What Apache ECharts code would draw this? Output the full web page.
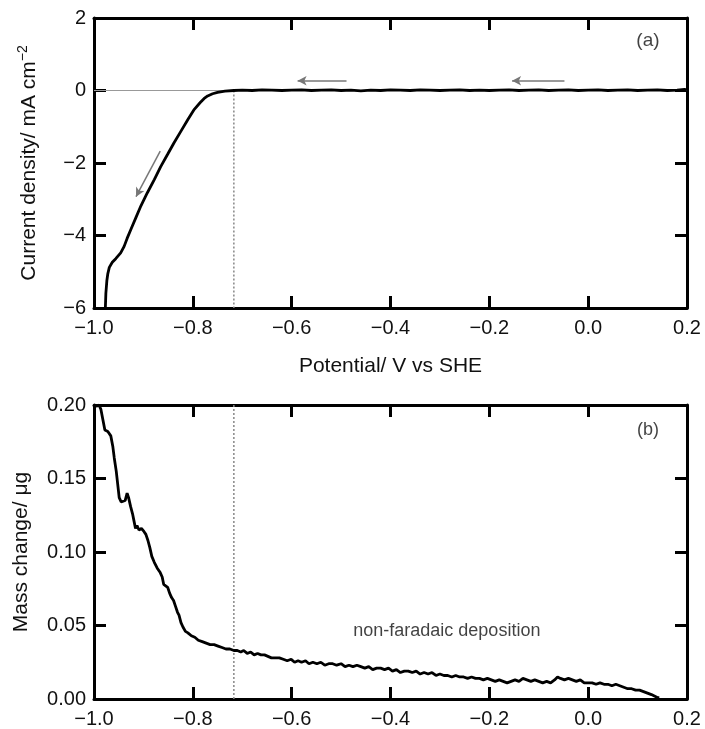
<!DOCTYPE html>
<html>
<head>
<meta charset="utf-8">
<script src="https://cdn.jsdelivr.net/npm/echarts@6/dist/echarts.min.js"></script>
<style>html,body{margin:0;padding:0;background:#fff}#c{width:705px;height:729px}</style>
</head>
<body>
<div id="c"></div>
<script>
// ---- Panel (a): current density vs potential (cathodic scan) ----
const currentE = [0.200,0.195,0.18,0.16,0.14,0.12,0.10,0.08,0.06,0.04,0.02,0.00,-0.02,-0.04,-0.06,-0.08,-0.10,-0.12,-0.14,-0.16,-0.18,-0.20,-0.22,-0.24,-0.26,-0.28,-0.30,-0.32,-0.34,-0.36,-0.38,-0.40,-0.42,-0.44,-0.46,-0.48,-0.50,-0.52,-0.54,-0.56,-0.58,-0.60,-0.62,-0.64,-0.66,-0.68,-0.70,-0.717,-0.735,-0.750,-0.760,-0.770,-0.777,-0.785,-0.797,-0.810,-0.824,-0.838,-0.851,-0.865,-0.878,-0.892,-0.905,-0.915,-0.925,-0.933,-0.939,-0.946,-0.956,-0.963,-0.969,-0.972,-0.974,-0.976,-0.977,-0.978];
const currentJ = [0.02,0.03,0.01,0.00,0.02,0.01,0.00,0.02,0.01,0.00,0.02,0.01,0.00,0.02,0.01,0.00,0.02,0.01,0.00,0.02,0.01,0.00,0.01,0.00,0.02,0.01,0.00,0.01,0.02,0.00,0.01,0.02,0.00,0.01,-0.01,0.01,0.00,0.02,0.01,0.00,0.02,0.01,0.00,0.01,0.02,0.00,0.01,0.00,-0.02,-0.05,-0.09,-0.15,-0.22,-0.33,-0.52,-0.80,-1.12,-1.44,-1.76,-2.10,-2.46,-2.82,-3.18,-3.50,-3.82,-4.08,-4.30,-4.48,-4.64,-4.74,-4.88,-5.05,-5.25,-5.60,-6.00,-6.40];

// ---- Panel (b): mass change vs potential ----
const massE = [-0.996,-0.990,-0.986,-0.982,-0.978,-0.972,-0.966,-0.962,-0.959,-0.955,-0.952,-0.949,-0.945,-0.941,-0.937,-0.933,-0.930,-0.926,-0.922,-0.919,-0.916,-0.913,-0.909,-0.904,-0.899,-0.895,-0.891,-0.887,-0.883,-0.878,-0.872,-0.866,-0.862,-0.859,-0.855,-0.851,-0.847,-0.843,-0.839,-0.835,-0.831,-0.828,-0.824,-0.820,-0.815,-0.810,-0.803,-0.796,-0.789,-0.781,-0.773,-0.765,-0.757,-0.749,-0.741,-0.733,-0.725,-0.717,-0.710,-0.703,-0.697,-0.690,-0.683,-0.676,-0.669,-0.662,-0.655,-0.648,-0.641,-0.633,-0.625,-0.617,-0.609,-0.601,-0.594,-0.587,-0.580,-0.572,-0.565,-0.557,-0.549,-0.541,-0.533,-0.525,-0.517,-0.509,-0.500,-0.492,-0.484,-0.476,-0.468,-0.460,-0.452,-0.444,-0.436,-0.428,-0.420,-0.412,-0.404,-0.396,-0.388,-0.380,-0.372,-0.364,-0.356,-0.348,-0.340,-0.332,-0.324,-0.316,-0.308,-0.300,-0.292,-0.284,-0.276,-0.268,-0.260,-0.252,-0.244,-0.236,-0.228,-0.220,-0.212,-0.204,-0.196,-0.188,-0.180,-0.172,-0.164,-0.156,-0.148,-0.140,-0.132,-0.124,-0.116,-0.108,-0.100,-0.092,-0.084,-0.076,-0.068,-0.062,-0.056,-0.048,-0.040,-0.032,-0.024,-0.016,-0.008,0.000,0.008,0.016,0.024,0.032,0.040,0.048,0.056,0.064,0.072,0.080,0.088,0.096,0.104,0.112,0.120,0.128,0.134,0.140,0.144];
const massM = [0.199,0.200,0.197,0.190,0.183,0.182,0.179,0.172,0.164,0.155,0.146,0.137,0.134,0.133,0.135,0.140,0.137,0.131,0.126,0.121,0.116,0.118,0.115,0.116,0.114,0.112,0.108,0.103,0.097,0.093,0.089,0.086,0.083,0.078,0.077,0.076,0.072,0.069,0.067,0.063,0.059,0.057,0.052,0.049,0.046,0.045,0.043,0.042,0.040,0.039,0.038,0.037,0.037,0.036,0.035,0.034,0.034,0.033,0.033,0.032,0.033,0.031,0.032,0.030,0.031,0.030,0.030,0.029,0.028,0.028,0.028,0.027,0.026,0.027,0.025,0.026,0.025,0.026,0.024,0.025,0.024,0.025,0.023,0.024,0.024,0.023,0.024,0.022,0.023,0.022,0.023,0.022,0.021,0.022,0.020,0.021,0.021,0.020,0.021,0.019,0.020,0.018,0.019,0.019,0.018,0.019,0.017,0.018,0.017,0.018,0.016,0.017,0.016,0.016,0.015,0.016,0.015,0.015,0.014,0.015,0.014,0.014,0.013,0.014,0.013,0.012,0.013,0.012,0.011,0.012,0.013,0.012,0.014,0.013,0.012,0.013,0.012,0.011,0.012,0.011,0.013,0.015,0.014,0.013,0.014,0.013,0.012,0.013,0.011,0.011,0.011,0.010,0.011,0.010,0.010,0.009,0.010,0.009,0.008,0.007,0.007,0.006,0.006,0.005,0.004,0.003,0.002,0.001,0.001];

// deposition onset potential (dotted marker)
const onsetE = -0.717;
const currentRange = [-6, 0];
const massRange = [0, 0.2];

// scan direction arrows [x1, y1, x2, y2] in panel (a)
const arrowsA = [
  [-0.048, 0.27, -0.154, 0.27],
  [-0.489, 0.27, -0.588, 0.27],
  [-0.866, -1.67, -0.915, -2.93]
];

// annotations [x, y, text]
const labelsA = [[0.121, 1.37, '(a)']];
const labelsB = [[0.121, 0.183, '(b)'], [-0.286, 0.046, 'non-faradaic deposition']];

const FONT = 'Liberation Sans, Arial, Helvetica, sans-serif';
const TXT = '#111';
const minus = s => String(s).replace(/-/g, '\u2212');

function axisBase(extra) {
  return Object.assign({
    type: 'value',
    axisLine: { show: true, onZero: false, lineStyle: { color: '#000', width: 3 } },
    axisTick: { show: true, inside: true, length: 12, lineStyle: { color: '#000', width: 3 } },
    splitLine: { show: false },
    axisLabel: { show: false }
  }, extra);
}
const xLab = { show: true, fontFamily: FONT, fontSize: 20, color: TXT, margin: 10,
  formatter: v => minus(Number(v).toFixed(1)) };

const pts = (xs, ys) => xs.map((x, i) => [x, ys[i]]);

const option = {
  animation: false,
  backgroundColor: '#fff',
  grid: [
    { left: 94, top: 18, width: 593, height: 290 },
    { left: 94, top: 405, width: 593, height: 296 }
  ],
  xAxis: [
    axisBase({ gridIndex: 0, position: 'bottom', min: -1, max: 0.2, interval: 0.2, axisLabel: xLab,
      name: 'Potential/ V vs SHE', nameLocation: 'middle', nameGap: 48,
      nameTextStyle: { fontFamily: FONT, fontSize: 21, color: TXT } }),
    axisBase({ gridIndex: 0, position: 'top', min: -1, max: 0.2, interval: 0.2 }),
    axisBase({ gridIndex: 1, position: 'bottom', min: -1, max: 0.2, interval: 0.2, axisLabel: xLab }),
    axisBase({ gridIndex: 1, position: 'top', min: -1, max: 0.2, interval: 0.2 })
  ],
  yAxis: [
    axisBase({ gridIndex: 0, position: 'left', min: -6, max: 2, interval: 2,
      axisLabel: { show: true, fontFamily: FONT, fontSize: 20, color: TXT, margin: 8,
        formatter: v => minus(Math.round(v)) },
      name: 'Current density/ mA cm{sup|\u22122}', nameLocation: 'middle', nameGap: 52,
      nameTextStyle: { fontFamily: FONT, fontSize: 21, color: TXT,
        rich: { sup: { fontFamily: FONT, fontSize: 14, color: TXT, padding: [0, 0, 12, 0] } } } }),
    axisBase({ gridIndex: 0, position: 'right', min: -6, max: 2, interval: 2 }),
    axisBase({ gridIndex: 1, position: 'left', min: 0, max: 0.2, interval: 0.05,
      axisLabel: { show: true, fontFamily: FONT, fontSize: 20, color: TXT, margin: 8,
        formatter: v => Number(v).toFixed(2) },
      name: 'Mass change/ \u03bcg', nameLocation: 'middle', nameGap: 62,
      nameTextStyle: { fontFamily: FONT, fontSize: 21, color: TXT } }),
    axisBase({ gridIndex: 1, position: 'right', min: 0, max: 0.2, interval: 0.05 })
  ],
  series: [
    { type: 'line', xAxisIndex: 0, yAxisIndex: 0, z: 1, symbol: 'none', silent: true,
      data: [[-1, 0], [0.2, 0]], lineStyle: { color: '#999', width: 1 } },
    { type: 'line', xAxisIndex: 0, yAxisIndex: 0, z: 2, symbol: 'none', silent: true,
      data: [[onsetE, currentRange[1]], [onsetE, currentRange[0]]],
      lineStyle: { color: '#888', width: 1.5, type: [2, 2] } },
    { type: 'line', xAxisIndex: 0, yAxisIndex: 0, z: 3, symbol: 'none',
      data: pts(currentE, currentJ), lineStyle: { color: '#000', width: 2.8 },
      markLine: { silent: true, symbol: ['none', 'arrow'], symbolSize: [7, 9],
        lineStyle: { color: '#777', width: 1.5, type: 'solid' }, label: { show: false },
        data: arrowsA.map(a => [{ coord: [a[0], a[1]] }, { coord: [a[2], a[3]] }]) } },
    { type: 'scatter', xAxisIndex: 0, yAxisIndex: 0, symbolSize: 1, silent: true,
      itemStyle: { color: 'rgba(0,0,0,0)' },
      data: labelsA.map(l => ({ value: [l[0], l[1]], name: l[2] })),
      label: { show: true, position: 'inside', formatter: '{b}', fontFamily: FONT, fontSize: 19, color: TXT } },
    { type: 'line', xAxisIndex: 2, yAxisIndex: 2, z: 2, symbol: 'none', silent: true,
      data: [[onsetE, massRange[0]], [onsetE, massRange[1]]],
      lineStyle: { color: '#888', width: 1.5, type: [2, 2] } },
    { type: 'line', xAxisIndex: 2, yAxisIndex: 2, z: 3, symbol: 'none',
      data: pts(massE, massM), lineStyle: { color: '#000', width: 2.8 } },
    { type: 'scatter', xAxisIndex: 2, yAxisIndex: 2, symbolSize: 1, silent: true,
      itemStyle: { color: 'rgba(0,0,0,0)' },
      data: labelsB.map(l => ({ value: [l[0], l[1]], name: l[2] })),
      label: { show: true, position: 'inside', formatter: '{b}', fontFamily: FONT, fontSize: 18, color: TXT } }
  ]
};
const chart = echarts.init(document.getElementById('c'), null, { renderer: 'canvas' });
chart.setOption(option);
</script>
</body>
</html>
